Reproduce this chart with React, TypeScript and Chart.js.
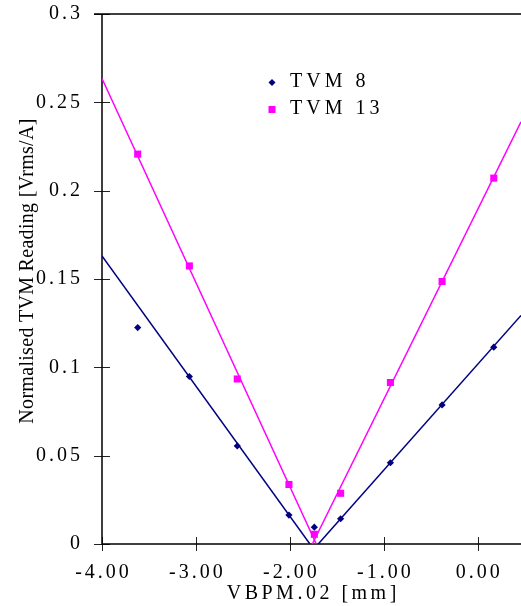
import React, { useEffect, useRef } from "react";
import { Chart, registerables } from "chart.js";

Chart.register(...registerables);

// Beam position scan: normalised TVM readings against VBPM.02 position
const seriesNames = ["TVM 8", "TVM 13"];
const seriesColors = ["#000080", "#FF00FF"];
const vbpmPositions = [-3.62, -3.07, -2.56, -2.01, -1.74, -1.46, -0.93, -0.38, 0.17];
const tvm8Readings = [0.1225, 0.0948, 0.0555, 0.0164, 0.0095, 0.0143, 0.046, 0.0787, 0.1114];
const tvm13Readings = [0.2207, 0.1574, 0.0934, 0.0337, 0.0055, 0.0287, 0.0914, 0.1486, 0.2071];

// Straight-line fits on each side of the minimum
const tvm8FitLeftX = [-4, -1.787];
const tvm8FitLeftY = [0.1631, 0];
const tvm8FitRightX = [-1.698, 0.46];
const tvm8FitRightY = [0, 0.1294];
const tvm13FitLeftX = [-4, -1.719];
const tvm13FitLeftY = [0.2635, 0];
const tvm13FitRightX = [-1.761, 0.46];
const tvm13FitRightY = [0, 0.239];

const xTickValues = [-4, -3, -2, -1, 0];
const yTickValues = [0, 0.05, 0.1, 0.15, 0.2, 0.25, 0.3];
const xTitle = "VBPM.02 [mm]";
const yTitle = "Normalised TVM Reading [Vrms/A]";

const SERIF = "'Liberation Serif', 'Times New Roman', serif";

const toPoints = (xs: number[], ys: number[]) => xs.map((x, i) => ({ x, y: ys[i] }));

const framePlugin = {
  id: "frame",
  beforeDraw(chart: any) {
    chart.ctx.letterSpacing = "3px";
  },
  beforeDatasetsDraw(chart: any) {
    const { ctx, chartArea } = chart;
    const { left, right, top, bottom } = chartArea;
    const xs = chart.scales.x;
    const ys = chart.scales.y;
    ctx.save();
    ctx.letterSpacing = "0px";
    // tick marks crossing the axes
    ctx.strokeStyle = "#222";
    ctx.lineWidth = 1;
    ctx.beginPath();
    xTickValues.forEach((v) => {
      const px = Math.round(xs.getPixelForValue(v)) + 0.5;
      ctx.moveTo(px, bottom - 7);
      ctx.lineTo(px, bottom + 7);
    });
    yTickValues.forEach((v) => {
      const py = Math.round(ys.getPixelForValue(v)) + 0.5;
      ctx.moveTo(left - 8, py);
      ctx.lineTo(left + 8, py);
    });
    ctx.stroke();
    // axis lines and top frame line
    ctx.strokeStyle = "#000";
    ctx.lineWidth = 1.5;
    ctx.beginPath();
    ctx.moveTo(left, top);
    ctx.lineTo(left, bottom);
    ctx.lineTo(right, bottom);
    ctx.moveTo(left - 8, top);
    ctx.lineTo(right, top);
    ctx.stroke();
    ctx.restore();
  },
  afterDraw(chart: any) {
    const { ctx, chartArea } = chart;
    ctx.save();
    ctx.fillStyle = "#000";

    // x axis title
    ctx.font = `20px ${SERIF}`;
    ctx.letterSpacing = "3.5px";
    ctx.textBaseline = "alphabetic";
    ctx.textAlign = "left";
    const xw = ctx.measureText(xTitle).width - 3.5;
    ctx.fillText(xTitle, (chartArea.left + chartArea.right) / 2 - xw / 2, 599);

    // y axis title
    ctx.letterSpacing = "0.3px";
    ctx.save();
    ctx.translate(33, 271);
    ctx.rotate(-Math.PI / 2);
    ctx.textAlign = "center";
    ctx.fillText(yTitle, 0, 0);
    ctx.restore();

    // legend
    ctx.letterSpacing = "4px";
    ctx.textBaseline = "middle";
    ctx.textAlign = "left";
    const legendX = 272;
    const legendY = [82.5, 109.5];
    seriesNames.forEach((name, i) => {
      const y = legendY[i];
      ctx.fillStyle = seriesColors[i];
      ctx.beginPath();
      if (i === 0) {
        ctx.moveTo(legendX, y - 3.5);
        ctx.lineTo(legendX + 3.5, y);
        ctx.lineTo(legendX, y + 3.5);
        ctx.lineTo(legendX - 3.5, y);
        ctx.closePath();
      } else {
        ctx.rect(legendX - 3.5, y - 3.5, 7, 7);
      }
      ctx.fill();
      ctx.fillStyle = "#000";
      ctx.fillText(name, 290, y - 0.5);
    });
    ctx.restore();
    ctx.letterSpacing = "0px";
  },
};

export default function App() {
  const canvasRef = useRef<HTMLCanvasElement | null>(null);

  useEffect(() => {
    const canvas = canvasRef.current;
    if (!canvas) return;
    const fitLine = (xs: number[], ys: number[], color: string) => ({
      type: "line" as const,
      data: toPoints(xs, ys),
      borderColor: color,
      borderWidth: 1.5,
      pointRadius: 0,
      fill: false,
      tension: 0,
      showLine: true,
    });
    const chart = new Chart(canvas, {
      type: "scatter",
      data: {
        datasets: [
          {
            label: seriesNames[0],
            data: toPoints(vbpmPositions, tvm8Readings),
            pointStyle: "rectRot",
            pointRadius: 3.6,
            backgroundColor: seriesColors[0],
            borderColor: seriesColors[0],
            borderWidth: 0,
          },
          {
            label: seriesNames[1],
            data: toPoints(vbpmPositions, tvm13Readings),
            pointStyle: "rect",
            pointRadius: 5,
            backgroundColor: seriesColors[1],
            borderColor: seriesColors[1],
            borderWidth: 0,
          },
          fitLine(tvm8FitLeftX, tvm8FitLeftY, seriesColors[0]),
          fitLine(tvm8FitRightX, tvm8FitRightY, seriesColors[0]),
          fitLine(tvm13FitLeftX, tvm13FitLeftY, seriesColors[1]),
          fitLine(tvm13FitRightX, tvm13FitRightY, seriesColors[1]),
        ] as any,
      },
      options: {
        responsive: false,
        animation: false,
        events: [],
        layout: { autoPadding: false, padding: { top: 14, right: 0, bottom: 0, left: 0 } },
        plugins: {
          legend: { display: false },
          tooltip: { enabled: false },
          title: { display: false },
        },
        scales: {
          x: {
            type: "linear",
            min: -4,
            max: 0.46,
            grid: { display: false, drawTicks: false },
            border: { display: false },
            afterFit: (s: any) => {
              s.height = 62;
              s.paddingLeft = 0;
              s.paddingRight = 0;
            },
            afterBuildTicks: (s: any) => {
              s.ticks = xTickValues.map((value) => ({ value }));
            },
            ticks: {
              autoSkip: false,
              maxRotation: 0,
              padding: 17,
              labelOffset: 1.5,
              color: "#000",
              font: { family: SERIF, size: 20 },
              callback: (v: any) => Number(v).toFixed(2),
            },
          },
          y: {
            type: "linear",
            min: 0,
            max: 0.3,
            grid: { display: false, drawTicks: false },
            border: { display: false },
            afterFit: (s: any) => {
              s.width = 102;
              s.paddingTop = 0;
              s.paddingBottom = 0;
            },
            afterBuildTicks: (s: any) => {
              s.ticks = yTickValues.map((value) => ({ value }));
            },
            ticks: {
              autoSkip: false,
              padding: 19,
              color: "#000",
              font: { family: SERIF, size: 20 },
              callback: (v: any) => String(Number(v)),
            },
          },
        },
      },
      plugins: [framePlugin],
    });
    return () => chart.destroy();
  }, []);

  return (
    <div style={{ position: "absolute", left: 0, top: 0, width: 521, height: 606, background: "#fff" }}>
      <canvas ref={canvasRef} width={521} height={606} style={{ display: "block" }} />
    </div>
  );
}
